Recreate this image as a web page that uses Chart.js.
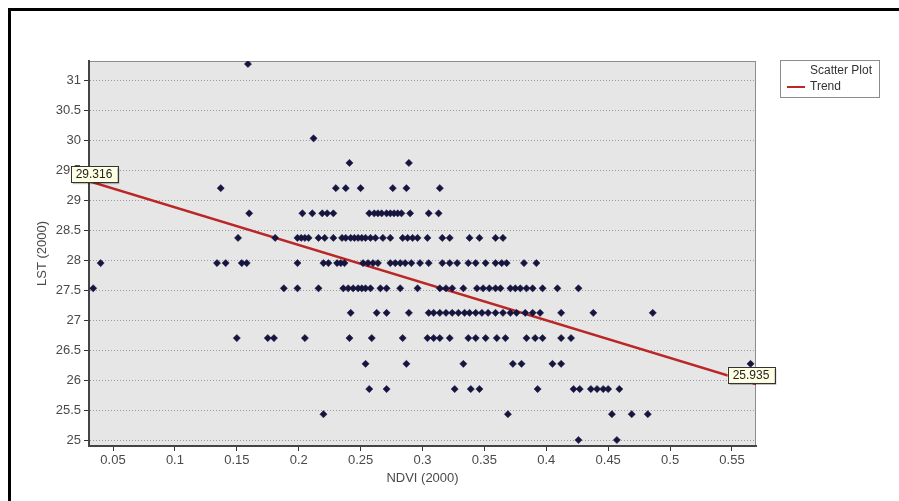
<!DOCTYPE html>
<html>
<head>
<meta charset="utf-8">
<script src="https://cdn.jsdelivr.net/npm/chart.js@4/dist/chart.umd.min.js"></script>
<style>
  html, body { margin: 0; padding: 0; background: #fff; }
  #wrap { width: 899px; height: 501px; }
</style>
</head>
<body>
<div id="wrap"><canvas id="lstChart" width="899" height="501"></canvas></div>
<script>
// LST values come in discrete steps; each row lists the NDVI of the points at that LST
const lstLevels = [31.27, 30.03, 29.62, 29.20, 28.78, 28.37, 27.95, 27.53, 27.12, 26.70, 26.27, 25.85, 25.43, 25.00];
const ndviByLevel = [
  [0.159],
  [0.212],
  [0.241, 0.289],
  [0.137, 0.230, 0.238, 0.250, 0.276, 0.287, 0.314],
  [0.160, 0.203, 0.211, 0.219, 0.223, 0.228, 0.257, 0.261, 0.264, 0.267, 0.271, 0.274, 0.277, 0.280, 0.283, 0.290, 0.305, 0.313],
  [0.151, 0.181, 0.199, 0.202, 0.205, 0.208, 0.216, 0.221, 0.228, 0.235, 0.238, 0.242, 0.245, 0.248, 0.251, 0.254, 0.258, 0.262,
   0.268, 0.274, 0.284, 0.288, 0.292, 0.296, 0.304, 0.316, 0.322, 0.338, 0.346, 0.359, 0.365],
  [0.040, 0.134, 0.141, 0.154, 0.158, 0.199, 0.220, 0.224, 0.231, 0.234, 0.237, 0.252, 0.256, 0.260, 0.264, 0.274, 0.278, 0.282,
   0.286, 0.291, 0.298, 0.305, 0.316, 0.322, 0.328, 0.337, 0.343, 0.351, 0.359, 0.364, 0.368, 0.382, 0.392],
  [0.034, 0.188, 0.199, 0.216, 0.236, 0.240, 0.244, 0.248, 0.251, 0.254, 0.258, 0.266, 0.271, 0.282, 0.296, 0.314, 0.319, 0.324,
   0.333, 0.344, 0.349, 0.354, 0.359, 0.363, 0.371, 0.375, 0.379, 0.384, 0.389, 0.397, 0.409, 0.426],
  [0.242, 0.263, 0.271, 0.289, 0.305, 0.309, 0.314, 0.319, 0.324, 0.329, 0.334, 0.338, 0.343, 0.348, 0.353, 0.359, 0.365, 0.371,
   0.376, 0.383, 0.389, 0.395, 0.412, 0.438, 0.486],
  [0.150, 0.175, 0.180, 0.205, 0.241, 0.259, 0.284, 0.304, 0.309, 0.314, 0.322, 0.337, 0.343, 0.351, 0.360, 0.367, 0.384, 0.391,
   0.397, 0.412, 0.420],
  [0.254, 0.287, 0.333, 0.373, 0.380, 0.405, 0.412, 0.565],
  [0.257, 0.271, 0.326, 0.339, 0.346, 0.393, 0.422, 0.427, 0.436, 0.441, 0.446, 0.450, 0.459],
  [0.220, 0.369, 0.453, 0.469, 0.482],
  [0.426, 0.457]
];

const trendNdvi = [0.0306, 0.5694];
const trendLst = [29.316, 25.935];

const xTicks = [0.05, 0.1, 0.15, 0.2, 0.25, 0.3, 0.35, 0.4, 0.45, 0.5, 0.55];
const yTicks = [25, 25.5, 26, 26.5, 27, 27.5, 28, 28.5, 29, 29.5, 30, 30.5, 31];

const scatterPoints = [];
lstLevels.forEach((lst, i) => {
  ndviByLevel[i].forEach(v => scatterPoints.push({ x: v, y: lst }));
});
const trendPoints = trendNdvi.map((v, i) => ({ x: v, y: trendLst[i] }));

const FONT = "'Liberation Sans', Arial, sans-serif";
const TEXT = '#4a4a4a';

const frame = {
  id: 'frame',
  beforeDraw(chart) {
    const { ctx, chartArea: a } = chart;
    ctx.save();
    ctx.fillStyle = '#fff';
    ctx.fillRect(0, 0, chart.width, chart.height);
    ctx.fillStyle = '#000';
    ctx.fillRect(8, 8, chart.width - 8, 3);
    ctx.fillRect(8, 8, 3, chart.height - 8);
    ctx.fillStyle = '#e6e6e6';
    ctx.fillRect(a.left, a.top, a.right - a.left, a.bottom - a.top);
    ctx.strokeStyle = '#8c8c8c';
    ctx.lineWidth = 1;
    ctx.strokeRect(a.left + 0.5, a.top + 0.5, a.right - a.left - 1, a.bottom - a.top - 1);
    ctx.restore();
  },
  afterDatasetsDraw(chart) {
    const { ctx } = chart;
    const pts = chart.getDatasetMeta(1).data;
    ctx.save();
    ctx.font = '12px ' + FONT;
    ctx.textAlign = 'center';
    ctx.textBaseline = 'middle';
    pts.forEach((p, i) => {
      const txt = trendLst[i].toFixed(3);
      const w = ctx.measureText(txt).width + 10;
      const h = 16;
      const cx = i === 0 ? p.x + 5 : p.x - 5;
      const top = i === 0 ? p.y - 15 : p.y - 17;
      ctx.fillStyle = 'rgba(0,0,0,0.25)';
      ctx.fillRect(cx - w / 2 + 2, top + 2, w, h);
      ctx.fillStyle = '#ffffe4';
      ctx.fillRect(cx - w / 2, top, w, h);
      ctx.strokeStyle = '#333';
      ctx.lineWidth = 1;
      ctx.strokeRect(Math.round(cx - w / 2) + 0.5, Math.round(top) + 0.5, Math.round(w), h);
      ctx.fillStyle = '#222';
      ctx.fillText(txt, cx, top + h / 2 + 1);
    });

    // legend
    const lx = 780, ly = 60, lw = 99, lh = 37;
    ctx.fillStyle = '#fff';
    ctx.fillRect(lx, ly, lw, lh);
    ctx.strokeStyle = '#8c8c8c';
    ctx.strokeRect(lx + 0.5, ly + 0.5, lw, lh);
    ctx.textAlign = 'left';
    ctx.fillStyle = '#333';
    ctx.fillText(chart.data.datasets[0].label, 810, 71);
    ctx.fillText(chart.data.datasets[1].label, 810, 87);
    ctx.strokeStyle = chart.data.datasets[1].borderColor;
    ctx.lineWidth = 2;
    ctx.beginPath();
    ctx.moveTo(787, 87);
    ctx.lineTo(805, 87);
    ctx.stroke();
    ctx.restore();
  }
};

new Chart(document.getElementById('lstChart'), {
  type: 'scatter',
  data: {
    datasets: [{
      label: 'Scatter Plot',
      data: scatterPoints,
      pointStyle: 'rectRot',
      pointRadius: 3.6,
      backgroundColor: '#15153f',
      borderColor: '#15153f',
      borderWidth: 0.5
    }, {
      type: 'line',
      label: 'Trend',
      data: trendPoints,
      borderColor: '#bb2626',
      borderWidth: 2.5,
      pointRadius: 0,
      fill: false
    }]
  },
  options: {
    responsive: false,
    animation: false,
    layout: { padding: { left: 0, top: 61, right: 143, bottom: 0 } },
    plugins: { legend: { display: false }, tooltip: { enabled: false } },
    scales: {
      x: {
        type: 'linear',
        min: 0.0306,
        max: 0.5694,
        afterBuildTicks: s => { s.ticks = xTicks.map(v => ({ value: v })); },
        afterFit: s => { s.height = 55; },
        ticks: { color: TEXT, font: { family: FONT, size: 13 }, padding: 2, callback: v => String(v) },
        grid: { drawOnChartArea: false, drawTicks: true, tickLength: 5, tickColor: '#333', tickWidth: 1 },
        border: { display: true, color: '#444', width: 2 },
        title: { display: true, text: 'NDVI (2000)', color: TEXT, font: { family: FONT, size: 13 }, padding: { top: 0, bottom: 15 } }
      },
      y: {
        type: 'linear',
        min: 24.9,
        max: 31.32,
        afterBuildTicks: s => { s.ticks = yTicks.map(v => ({ value: v })); },
        afterFit: s => { s.width = 89; },
        ticks: { color: TEXT, font: { family: FONT, size: 13 }, padding: 3, callback: v => String(v) },
        grid: { color: '#9a9a9a', lineWidth: 1, drawTicks: true, tickLength: 5, tickColor: '#333', tickWidth: 1 },
        border: { display: true, color: '#444', width: 2, dash: [1, 2] },
        title: { display: true, text: 'LST (2000)', color: TEXT, font: { family: FONT, size: 13 }, padding: { top: 35, bottom: 0 } }
      }
    }
  },
  plugins: [frame]
});
</script>
</body>
</html>
